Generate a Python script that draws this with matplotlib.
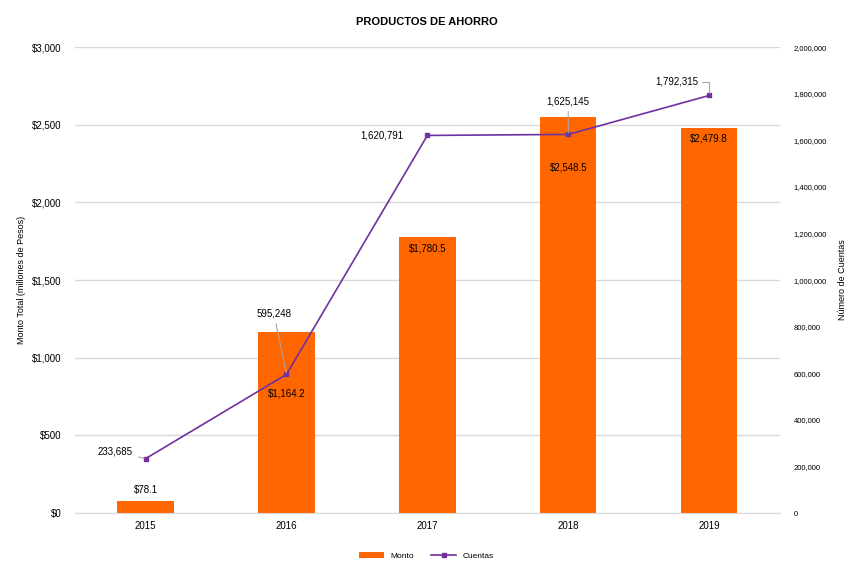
import matplotlib
matplotlib.use('Agg')

import matplotlib.pyplot as plt
from matplotlib.ticker import FuncFormatter
import numpy as np

plt.rcParams['font.family'] = ['Liberation Sans', 'DejaVu Sans']

# data
years = ['2015', '2016', '2017', '2018', '2019']
monto = [78.1, 1164.2, 1780.5, 2548.5, 2479.8]
cuentas = [233685, 595248, 1620791, 1625145, 1792315]

orange = '#FF6600'
purple = '#7030A0'
grey = '#D9D9D9'

fig = plt.figure(figsize=(8.53, 5.67), dpi=100)
ax = fig.add_axes([0.088, 0.095, 0.826, 0.822])
ax2 = ax.twinx()

x = np.arange(len(years))
bars = ax.bar(x, monto, width=0.4, color=orange, label='Monto', zorder=2)
ax2.plot(x, cuentas, color=purple, lw=1.2, marker='s', ms=3.5, label='Cuentas', zorder=3)

ax.set_xlim(-0.5, 4.5)
ax.set_ylim(0, 3000)
ax2.set_ylim(0, 2000000)
ax.set_yticks(np.arange(0, 3001, 500))
ax2.set_yticks(np.arange(0, 2000001, 200000))
ax.set_xticks(x)
ax.set_xticklabels(years, fontsize=7)
ax.yaxis.set_major_formatter(FuncFormatter(lambda v, p: '${:,.0f}'.format(v)))
ax2.yaxis.set_major_formatter(FuncFormatter(lambda v, p: '{:,.0f}'.format(v)))
ax.tick_params(axis='y', labelsize=7, length=0, pad=10)
ax2.tick_params(axis='y', labelsize=5.5, length=0, pad=10)
ax.tick_params(axis='x', length=0, pad=6)

ax.grid(axis='y', color=grey, lw=1, zorder=0)
ax.set_axisbelow(True)
for s in ['top', 'right', 'left']:
    ax.spines[s].set_visible(False)
    ax2.spines[s].set_visible(False)
ax.spines['bottom'].set_color(grey)
ax2.spines['bottom'].set_visible(False)

ax.set_ylabel('Monto Total (millones de Pesos)', fontsize=6.5)
ax2.set_ylabel('Número de Cuentas', fontsize=6.5, labelpad=8)
ax.set_title('PRODUCTOS DE AHORRO', fontsize=8, fontweight='bold', pad=16)

# bar labels (vertical offset in points from bar top)
bar_dy = [8, -44, -8.5, -36, -8]
for i, v in enumerate(monto):
    ax.annotate('${:,.1f}'.format(v), (x[i], v), xytext=(0, bar_dy[i]),
                textcoords='offset points', ha='center', va='center', fontsize=7,
                zorder=5)

# line labels with leader lines
offsets = [(-9, 5), (-9, 44), (-17, 0), (0, 24), (-8, 10)]
aligns = ['right', 'center', 'right', 'center', 'right']
for i, v in enumerate(cuentas):
    dx, dy = offsets[i]
    arrow = None
    if i in (0, 1, 3):
        arrow = dict(arrowstyle='-', color='#A6A6A6', lw=0.8, shrinkA=2, shrinkB=1)
    elif i == 4:
        arrow = dict(arrowstyle='-', color='#A6A6A6', lw=0.8, shrinkA=1, shrinkB=2,
                     connectionstyle='angle,angleA=0,angleB=90,rad=0')
    ax2.annotate('{:,}'.format(v), (x[i], v), xytext=(dx, dy), textcoords='offset points',
                 ha=aligns[i], va='center', fontsize=7, arrowprops=arrow)

h1, l1 = ax.get_legend_handles_labels()
h2, l2 = ax2.get_legend_handles_labels()
fig.legend(h1 + h2, l1 + l2, loc='lower center', bbox_to_anchor=(0.5, 0.0),
           ncol=2, frameon=False, fontsize=6, handlelength=3)

fig.savefig('out.png', dpi=100)
